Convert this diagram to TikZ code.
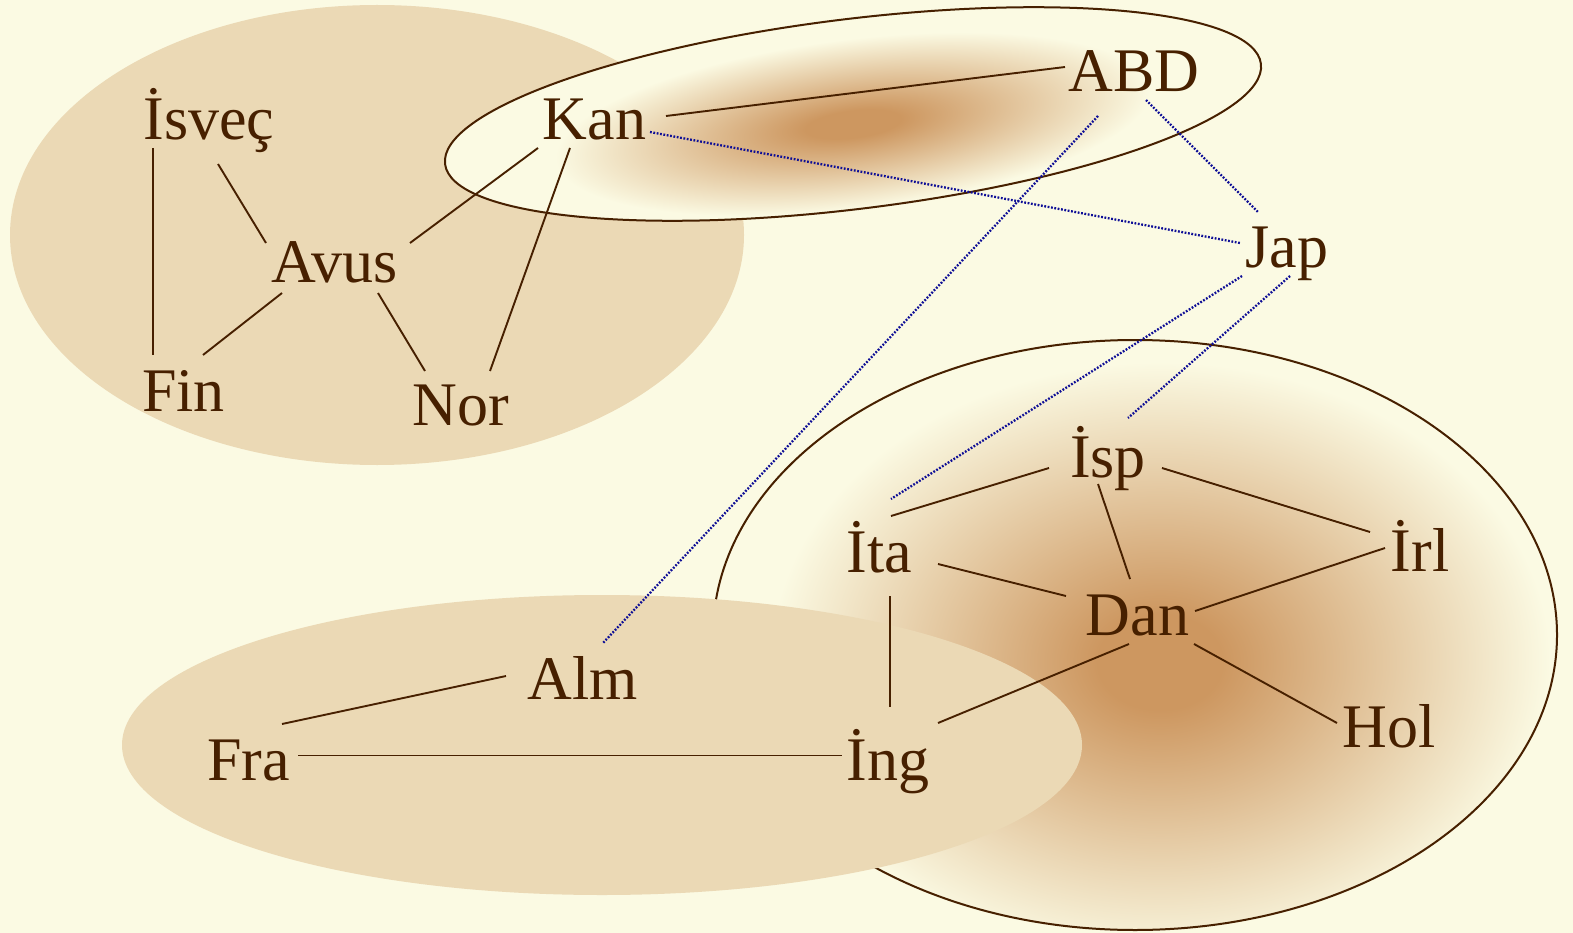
\documentclass[tikz,border=0pt]{standalone}
\usepackage{fontspec}
\setmainfont{Liberation Serif}
\usetikzlibrary{calc}
\definecolor{bg}{HTML}{FBFAE3}
\definecolor{parch}{HTML}{EBD9B5}
\definecolor{ink}{HTML}{472000}
\definecolor{dotblue}{HTML}{0E0E96}
\definecolor{glow}{HTML}{CD9760}
\pgfdeclareradialshading{glowshade}{\pgfpoint{0bp}{0bp}}{color(0bp)=(glow); color(4bp)=(glow); color(25bp)=(bg); color(50bp)=(bg)}
\tikzset{
  lbl/.style={inner sep=0pt, anchor=base, text=ink, font=\fontsize{62}{70}\selectfont},
  link/.style={draw=ink, line width=1.9pt},
  dlink/.style={draw=dotblue, line width=2.3pt, dash pattern=on 1.8pt off 1.6pt},
  rim/.style={draw=ink, line width=2pt}
}
\begin{document}
\begin{tikzpicture}[x=1pt,y=-1pt]
\useasboundingbox (0,0) rectangle (1573,933);
\fill[bg] (0,0) rectangle (1573,933);
% top-left parchment
\fill[parch] (377,235) ellipse[x radius=367, y radius=230];
% top tilted ellipse
\begin{scope}[transform canvas={rotate around={7:(853,114)}}]
  \fill[bg] (853,114) ellipse[x radius=411, y radius=95];
  \begin{scope}
    \clip (853,114) ellipse[x radius=411, y radius=95];
    \shade[shading=glowshade] (852,124) ellipse[x radius=300, y radius=85];
  \end{scope}
  \draw[rim] (853,114) ellipse[x radius=411, y radius=95];
\end{scope}
% lower-right ellipse
\fill[bg] (1135,635) ellipse[x radius=422, y radius=295];
\begin{scope}
  \clip (1135,635) ellipse[x radius=422, y radius=295];
  \shade[shading=glowshade] (1160,662) ellipse[x radius=390, y radius=300];
\end{scope}
\draw[rim] (1135,635) ellipse[x radius=422, y radius=295];
% bottom-left parchment
\fill[parch] (602,745) ellipse[x radius=480, y radius=150];

% nodes
\node[lbl] (Isvec) at (209,140) {İsveç};
\node[lbl] (Kan) at (594.5,140) {Kan};
\node[lbl] (ABD) at (1134,92) {ABD};
\node[lbl] (Avus) at (334.5,283) {Avus};
\node[lbl] (Jap) at (1287,268) {Jap};
\node[lbl] (Fin) at (183.5,411) {Fin};
\node[lbl] (Nor) at (461,425) {Nor};
\node[lbl] (Isp) at (1108,477) {İsp};
\node[lbl] (Ita) at (879.5,572) {İta};
\node[lbl] (Irl) at (1420,571) {İrl};
\node[lbl] (Dan) at (1137.5,635) {Dan};
\node[lbl] (Alm) at (582.5,699) {Alm};
\node[lbl] (Fra) at (248.5,780) {Fra};
\node[lbl] (Ing) at (888,780) {İng};
\node[lbl] (Hol) at (1389,747) {Hol};

% solid links
\draw[link] ($(Isvec.base)+(-56,8)$) -- ($(Fin.base)+(-30.5,-56)$);
\draw[link] ($(Isvec.base)+(9,24)$) -- ($(Avus.base)+(-68.5,-40)$);
\draw[link] ($(Kan.base)+(-56.5,8)$) -- ($(Avus.base)+(75.5,-40)$);
\draw[link] ($(Kan.base)+(-24.5,8)$) -- ($(Nor.base)+(29,-54)$);
\draw[link] ($(Avus.base)+(-52.5,10)$) -- ($(Fin.base)+(19.5,-56)$);
\draw[link] ($(Avus.base)+(43.5,10)$) -- ($(Nor.base)+(-36,-54)$);
\draw[link] ($(Kan.base)+(71.5,-24)$) -- ($(ABD.base)+(-69,-25)$);
\draw[link] ($(Isp.base)+(-59,-9)$) -- ($(Ita.base)+(11.5,-56)$);
\draw[link] ($(Isp.base)+(54,-9)$) -- ($(Irl.base)+(-50,-39)$);
\draw[link] ($(Isp.base)+(-10,7)$) -- ($(Dan.base)+(-7.5,-56)$);
\draw[link] ($(Ita.base)+(58.5,-8)$) -- ($(Dan.base)+(-71.5,-39)$);
\draw[link] ($(Ita.base)+(10.5,24)$) -- ($(Ing.base)+(2,-73)$);
\draw[link] ($(Irl.base)+(-35,-23)$) -- ($(Dan.base)+(57.5,-24)$);
\draw[link] ($(Dan.base)+(-8.5,9)$) -- ($(Ing.base)+(50,-57)$);
\draw[link] ($(Dan.base)+(56.5,9)$) -- ($(Hol.base)+(-52,-24)$);
\draw[link] ($(Alm.base)+(-76.5,-23)$) -- ($(Fra.base)+(33.5,-56)$);
\draw[link] ($(Fra.base)+(49.5,-24.5)$) -- ($(Ing.base)+(-46,-24.5)$);

% dotted links
\draw[dlink] ($(Kan.base)+(55.5,-8)$) -- ($(Jap.base)+(-47,-25)$);
\draw[dlink] ($(ABD.base)+(12,8)$) -- ($(Jap.base)+(-29,-56)$);
\draw[dlink] ($(ABD.base)+(-36,24)$) -- ($(Alm.base)+(20.5,-56)$);
\draw[dlink] ($(Jap.base)+(-45,8)$) -- ($(Ita.base)+(11.5,-73)$);
\draw[dlink] ($(Jap.base)+(3,8)$) -- ($(Isp.base)+(20,-59)$);
\end{tikzpicture}
\end{document}
